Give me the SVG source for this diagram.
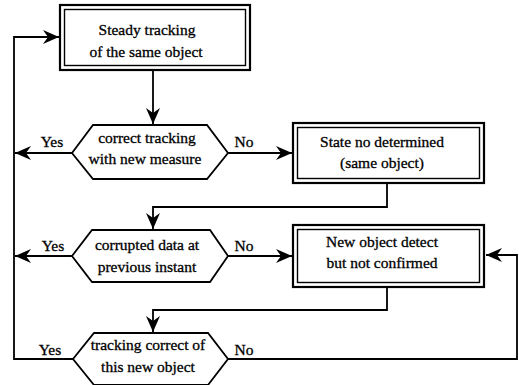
<svg xmlns="http://www.w3.org/2000/svg" width="519" height="385" viewBox="0 0 519 385">
<style>
.ln{fill:none;stroke:#000;stroke-width:1.8}
.ob{fill:#fff;stroke:#000;stroke-width:2.2}
.ib{fill:none;stroke:#000;stroke-width:1.4}
.hx{fill:#fff;stroke:#000;stroke-width:1.8}
.t{font-size:15.5px;fill:#000;stroke:#000;stroke-width:0.3;text-anchor:middle}
</style>
<defs>
<marker id="ah" markerUnits="userSpaceOnUse" markerWidth="18" markerHeight="16" refX="16" refY="7" orient="auto">
<path d="M0,0 L16,7 L0,14 L5,7 z" fill="#000"/>
</marker>
</defs>
<rect width="519" height="385" fill="#fff"/>
<g font-family="Liberation Serif, serif">
<g id="connectors">
<path class="ln" d="M153,70 V124" marker-end="url(#ah)"/>
<path class="ln" d="M72,153 H15" marker-end="url(#ah)"/>
<path class="ln" d="M228,153 H292" marker-end="url(#ah)"/>
<path class="ln" d="M387,183 V207 H153 V229" marker-end="url(#ah)"/>
<path class="ln" d="M72,256 H15" marker-end="url(#ah)"/>
<path class="ln" d="M228,256 H292" marker-end="url(#ah)"/>
<path class="ln" d="M387,287 V310 H153 V332" marker-end="url(#ah)"/>
<path class="ln" d="M73,359 H14 V37 H59" marker-end="url(#ah)"/>
<path class="ln" d="M228,359 H517 V255 H486" marker-end="url(#ah)"/>
<text x="52" y="147" class="t">Yes</text>
<text x="244" y="147" class="t">No</text>
<text x="53" y="251" class="t">Yes</text>
<text x="244" y="251" class="t">No</text>
<text x="50" y="355" class="t">Yes</text>
<text x="244" y="355" class="t">No</text>
</g>
<g id="steady">
<rect class="ob" x="60" y="5" width="190" height="65"/>
<rect class="ib" x="64.5" y="9.5" width="181" height="56"/>
<text x="147" y="35" class="t">Steady tracking</text>
<text x="146" y="57" class="t">of the same object</text>
</g>
<g id="dec1">
<polygon class="hx" points="72,153 93,125 207,125 228,153 207,179 93,179"/>
<text x="147" y="143" class="t">correct tracking</text>
<text x="145" y="164" class="t">with new measure</text>
</g>
<g id="state">
<rect class="ob" x="293" y="123" width="191" height="60"/>
<rect class="ib" x="297.5" y="127.5" width="182" height="51"/>
<text x="382" y="147" class="t">State no determined</text>
<text x="382" y="168" class="t">(same object)</text>
</g>
<g id="dec2">
<polygon class="hx" points="72,256 92,230 210,230 228,256 210,282 92,282"/>
<text x="147" y="250" class="t">corrupted data at</text>
<text x="147" y="272" class="t">previous instant</text>
</g>
<g id="newobj">
<rect class="ob" x="293" y="225" width="191" height="62"/>
<rect class="ib" x="297.5" y="229.5" width="182" height="53"/>
<text x="382" y="247" class="t">New object detect</text>
<text x="382" y="268" class="t">but not confirmed</text>
</g>
<g id="dec3">
<polygon class="hx" points="73,359 94,333 208,333 228,359 208,385 94,385"/>
<text x="148" y="350" class="t">tracking correct of</text>
<text x="148" y="372" class="t">this new object</text>
</g>
</g>
</svg>
